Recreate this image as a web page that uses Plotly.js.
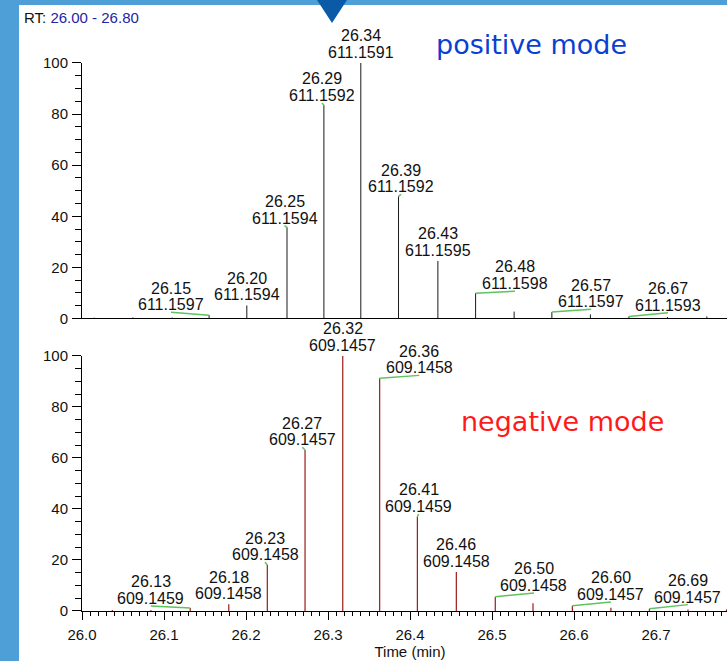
<!DOCTYPE html>
<html>
<head>
<meta charset="utf-8">
<script src="https://cdn.plot.ly/plotly-3.0.1.min.js"></script>
<style>
  html, body { margin: 0; padding: 0; width: 727px; height: 661px; overflow: hidden; background: #4e9ed7; }
  #chart { position: absolute; left: 19px; top: 5px; width: 719px; height: 656px; background: #ffffff; }
  #tri { position: absolute; left: 317px; top: 0px; width: 0; height: 0;
         border-left: 15px solid transparent; border-right: 15px solid transparent;
         border-top: 23px solid #0b5aa8; z-index: 10; }
</style>
</head>
<body>
<div id="chart"></div>
<div id="tri"></div>
<script>
// ---------- data ----------
// positive mode (top panel): scan times (min) and relative intensity (%)
const posTimes = [26.015, 26.062, 26.110, 26.155, 26.201, 26.250, 26.295, 26.340, 26.386, 26.434, 26.480, 26.527, 26.573, 26.620, 26.667, 26.714, 26.762];
const posIntensity = [0.3, 0.4, 0.4, 1.3, 5.1, 35.7, 83.5, 100, 47.8, 22.5, 9.9, 2.7, 2.5, 1.6, 0.8, 0.6, 0.8];

// negative mode (bottom panel)
const negTimes = [26.037, 26.084, 26.132, 26.179, 26.226, 26.272, 26.318, 26.363, 26.409, 26.4565, 26.504, 26.550, 26.598, 26.645, 26.692, 26.739, 26.786];
const negIntensity = [0.4, 0.4, 1.2, 2.6, 18.0, 63.1, 100, 91.3, 37.0, 15.3, 5.6, 3.0, 2.1, 1.3, 0.9, 0.6, 0.6];

// peak labels (top panel)
const posLabelRT = ['26.15', '26.20', '26.25', '26.29', '26.34', '26.39', '26.43', '26.48', '26.57', '26.67'];
const posLabelMz = ['611.1597', '611.1594', '611.1594', '611.1592', '611.1591', '611.1592', '611.1595', '611.1598', '611.1597', '611.1593'];
const posLabelPeak = [3, 4, 5, 6, 7, 8, 9, 10, 12, 14];
const posLabelX = [26.1085, 26.201, 26.247, 26.2927, 26.340, 26.389, 26.434, 26.528, 26.6207, 26.7146];
const posLabelY = [2.4, 5.1, 36.3, 84.3, 100, 48.6, 22.5, 10.7, 3.6, 2.2];

// peak labels (bottom panel)
const negLabelRT = ['26.13', '26.18', '26.23', '26.27', '26.32', '26.36', '26.41', '26.46', '26.50', '26.60', '26.69'];
const negLabelMz = ['609.1459', '609.1458', '609.1458', '609.1457', '609.1457', '609.1458', '609.1459', '609.1458', '609.1458', '609.1457', '609.1457'];
const negLabelPeak = [2, 3, 4, 5, 6, 7, 8, 9, 10, 12, 14];
const negLabelX = [26.084, 26.179, 26.2232, 26.2687, 26.318, 26.4113, 26.4106, 26.4565, 26.5512, 26.645, 26.739];
const negLabelY = [2.0, 2.6, 19.1, 64.2, 100, 92.4, 38.0, 15.3, 7.1, 3.5, 2.5];

const xTickVals = [26.0, 26.1, 26.2, 26.3, 26.4, 26.5, 26.6, 26.7, 26.8];
const yTickVals = [0, 20, 40, 60, 80, 100];
const xRange = [26.0, 26.8];
const rtRange = ['26.00', '26.80'];

// ---------- helpers ----------
function sticks(times, vals) {
  const x = [], y = [];
  times.forEach((t, i) => { x.push(t, t, null); y.push(0, vals[i], null); });
  return { x, y };
}
function greens(times, vals, peaks, lx, ly) {
  const x = [], y = [];
  peaks.forEach((p, i) => {
    if (Math.abs(times[p] - lx[i]) > 1e-4 || Math.abs(vals[p] - ly[i]) > 1e-4) {
      x.push(times[p], lx[i], null); y.push(vals[p], ly[i], null);
    }
  });
  return { x, y };
}

const LBL_FONT = { family: 'Liberation Sans, Arial, sans-serif', size: 16, color: '#111111' };
function labelAnns(rt, mz, peaks, times, vals, lx, ly, xref, yref) {
  const anns = [];
  rt.forEach((r, i) => {
    const hasGreen = Math.abs(times[peaks[i]] - lx[i]) > 1e-4;
    const base = hasGreen ? -2 : 1;
    anns.push({ x: lx[i], y: ly[i], xref, yref, text: mz[i], showarrow: false,
      xanchor: 'center', yanchor: 'bottom', yshift: base, borderpad: 0, font: LBL_FONT });
    anns.push({ x: lx[i], y: ly[i], xref, yref, text: r, showarrow: false,
      xanchor: 'center', yanchor: 'bottom', yshift: base + 16.7, borderpad: 0, font: LBL_FONT });
  });
  return anns;
}

const posS = sticks(posTimes, posIntensity);
const negS = sticks(negTimes, negIntensity);
const posG = greens(posTimes, posIntensity, posLabelPeak, posLabelX, posLabelY);
const negG = greens(negTimes, negIntensity, negLabelPeak, negLabelX, negLabelY);

const traces = [
  { x: posS.x, y: posS.y, xaxis: 'x2', yaxis: 'y2', mode: 'lines', line: { color: '#1a1a1a', width: 1 }, hoverinfo: 'skip', cliponaxis: false },
  { x: posG.x, y: posG.y, xaxis: 'x2', yaxis: 'y2', mode: 'lines', line: { color: '#5cc45c', width: 1.5 }, hoverinfo: 'skip', cliponaxis: false },
  { x: negS.x, y: negS.y, xaxis: 'x', yaxis: 'y', mode: 'lines', line: { color: '#9a1c1c', width: 1.2 }, hoverinfo: 'skip', cliponaxis: false },
  { x: negG.x, y: negG.y, xaxis: 'x', yaxis: 'y', mode: 'lines', line: { color: '#5cc45c', width: 1.5 }, hoverinfo: 'skip', cliponaxis: false }
];

const TICK_FONT = { family: 'Liberation Sans, Arial, sans-serif', size: 15, color: '#111111' };
const yCommon = {
  range: [0, 100], tickmode: 'linear', tick0: yTickVals[0], dtick: yTickVals[1] - yTickVals[0],
  showline: true, linecolor: '#000', linewidth: 1,
  ticks: 'outside', ticklen: 9, tickcolor: '#000', tickwidth: 1, showgrid: false, zeroline: false,
  tickfont: TICK_FONT, ticklabelstandoff: 1,
  minor: { dtick: 5, ticks: 'outside', ticklen: 6, tickcolor: '#000', tickwidth: 1, showgrid: false }
};

const annotations = [
  ...labelAnns(posLabelRT, posLabelMz, posLabelPeak, posTimes, posIntensity, posLabelX, posLabelY, 'x2', 'y2'),
  ...labelAnns(negLabelRT, negLabelMz, negLabelPeak, negTimes, negIntensity, negLabelX, negLabelY, 'x', 'y'),
  { xref: 'paper', yref: 'paper', x: -0.092, y: 0.9794, xanchor: 'left', yanchor: 'middle', showarrow: false,
    text: 'RT: <span style="color:#2424a4">' + rtRange[0] + ' - ' + rtRange[1] + '</span>',
    font: { family: 'Liberation Sans, Arial, sans-serif', size: 15, color: '#111' } },
  { xref: 'paper', yref: 'paper', x: 0.6845, y: 0.9356, xanchor: 'center', yanchor: 'middle', showarrow: false,
    text: 'positive mode', font: { family: 'DejaVu Sans, Verdana, sans-serif', size: 27, color: '#0b3fd2' } },
  { xref: 'paper', yref: 'paper', x: 0.7332, y: 0.3119, xanchor: 'center', yanchor: 'middle', showarrow: false,
    text: 'negative mode', font: { family: 'DejaVu Sans, Verdana, sans-serif', size: 27, color: '#ff1a1a' } }
];

const layout = {
  width: 719, height: 656,
  margin: { l: 63, r: 0, t: 0, b: 50 },
  paper_bgcolor: '#ffffff', plot_bgcolor: '#ffffff',
  showlegend: false,
  xaxis: {
    range: xRange, domain: [0, 1], anchor: 'y', tickmode: 'linear', tick0: xTickVals[0],
    dtick: +(xTickVals[1] - xTickVals[0]).toFixed(3), tickformat: '.1f',
    showline: true, linecolor: '#000', linewidth: 1, ticks: 'outside', ticklen: 8, tickcolor: '#000',
    showgrid: false, zeroline: false, tickfont: TICK_FONT, ticklabelstandoff: 2,
    minor: { dtick: 0.01, ticks: 'outside', ticklen: 4, tickcolor: '#000', showgrid: false },
    title: { text: 'Time (min)', font: { family: 'Liberation Sans, Arial, sans-serif', size: 15, color: '#111' }, standoff: 4 }
  },
  yaxis: Object.assign({}, yCommon, { domain: [0, 0.4208], anchor: 'x' }),
  xaxis2: {
    range: xRange, domain: [0, 1], anchor: 'y2', matches: 'x', showline: true, linecolor: '#000', linewidth: 1,
    ticks: '', showticklabels: false, showgrid: false, zeroline: false
  },
  yaxis2: Object.assign({}, yCommon, { domain: [0.4827, 0.9043], anchor: 'x2' }),
  annotations: annotations
};

Plotly.newPlot('chart', traces, layout, { displayModeBar: false, staticPlot: true });
</script>
</body>
</html>
